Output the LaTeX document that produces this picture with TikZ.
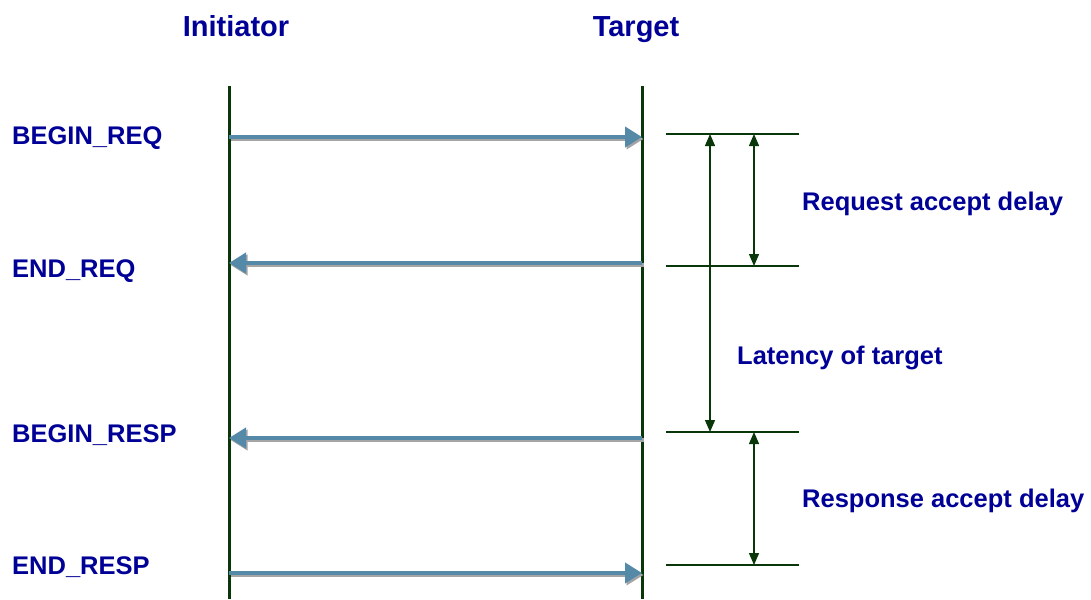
\documentclass[tikz,border=0pt]{standalone}
\usepackage{fontspec}
\setmainfont{Liberation Sans}
\usetikzlibrary{arrows.meta}
\definecolor{lifegreen}{RGB}{10,55,10}
\definecolor{msgblue}{RGB}{84,138,168}
\definecolor{shadowgray}{RGB}{165,165,165}
\definecolor{labelblue}{RGB}{0,0,150}
\tikzset{
  lifeline/.style={draw=lifegreen, line width=3pt},
  msgshadow/.style={draw=shadowgray, line width=4pt, -{Triangle[length=17pt,width=20pt]}, shadowgray},
  msg/.style={draw=msgblue, line width=4pt, -{Triangle[length=17pt,width=20pt]}, msgblue},
  tick/.style={draw=lifegreen, line width=1.3pt},
  span/.style={draw=lifegreen, line width=1.3pt, {Triangle[length=12pt,width=10pt]}-{Triangle[length=12pt,width=10pt]}},
  title/.style={font=\bfseries\fontsize{29}{34}\selectfont, text=labelblue, inner sep=0pt, anchor=base},
  evlabel/.style={font=\bfseries\fontsize{25.5}{30}\selectfont, text=labelblue, inner sep=0pt, anchor=base west},
}
\begin{document}
\begin{tikzpicture}[x=1pt,y=-1pt]
\useasboundingbox (0,0) rectangle (1091,599);

% titles
\node[title] (tInit) at (236,37) {Initiator};
\node[title] (tTarg) at (636,37) {Target};

% lifelines
\coordinate (iTop) at (229,86);
\coordinate (iBot) at (229,599);
\coordinate (tTop) at (642,86);
\coordinate (tBot) at (642,599);
\draw[lifeline] (iTop) -- (iBot);
\draw[lifeline] (tTop) -- (tBot);

% message end points
\coordinate (i1) at (229,137); \coordinate (t1) at (642,137);
\coordinate (i2) at (229,263); \coordinate (t2) at (642,263);
\coordinate (i3) at (229,438); \coordinate (t3) at (642,438);
\coordinate (i4) at (229,573); \coordinate (t4) at (642,573);

% messages with drop shadow
\foreach \a/\b in {i1/t1, t2/i2, t3/i3, i4/t4} {
  \draw[msgshadow] ([shift={(1.5,2)}]\a) -- ([shift={(1.5,2)}]\b);
  \draw[msg] (\a) -- (\b);
}

% event labels
\node[evlabel] (lBreq) at (12,144) {BEGIN\_REQ};
\node[evlabel] (lEreq) at (12,277) {END\_REQ};
\node[evlabel] (lBresp) at (12,442) {BEGIN\_RESP};
\node[evlabel] (lEresp) at (12,574) {END\_RESP};

% timing ticks
\coordinate (k1a) at (666,134); \coordinate (k1b) at (799,134);
\coordinate (k2a) at (666,266); \coordinate (k2b) at (799,266);
\coordinate (k3a) at (666,432); \coordinate (k3b) at (799,432);
\coordinate (k4a) at (666,565); \coordinate (k4b) at (799,565);
\draw[tick] (k1a) -- (k1b);
\draw[tick] (k2a) -- (k2b);
\draw[tick] (k3a) -- (k3b);
\draw[tick] (k4a) -- (k4b);

% spans between ticks
\coordinate (latTop) at (710,134); \coordinate (latBot) at (710,432);
\coordinate (reqTop) at (754,134); \coordinate (reqBot) at (754,266);
\coordinate (rspTop) at (754,432); \coordinate (rspBot) at (754,565);
\draw[span] (latTop) -- (latBot);
\draw[span] (reqTop) -- (reqBot);
\draw[span] (rspTop) -- (rspBot);

% span labels
\node[evlabel] (lReq) at (802,210) {Request accept delay};
\node[evlabel] (lLat) at (737,364) {Latency of target};
\node[evlabel] (lRsp) at (802,507) {Response accept delay};
\end{tikzpicture}
\end{document}
